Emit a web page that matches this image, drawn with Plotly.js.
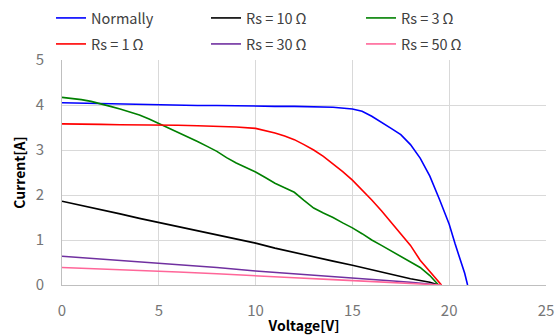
<!DOCTYPE html>
<html><head><meta charset="utf-8">
<script src="https://cdn.plot.ly/plotly-3.0.1.min.js"></script>
<style>html,body{margin:0;padding:0;background:#fff}</style>
</head><body><div id="chart" style="width:555px;height:335px"></div>
<script>
const seriesNames = ["Normally", "Rs = 10\u2009\u03a9", "Rs = 3\u2009\u03a9", "Rs = 1\u2009\u03a9", "Rs = 30\u2009\u03a9", "Rs = 50\u2009\u03a9"];
const seriesColors = ["#0000ff", "#000000", "#008000", "#ff0000", "#7030a0", "#ff6699"];

const normalV = [0,1,2,3,4,5,6,7,8,9,10,11,12,13,14,15,15.5,16,16.5,17,17.5,18,18.5,19,19.5,20,20.3,20.6,20.8,20.95];
const normalI = [4.05,4.04,4.03,4.02,4.01,4.00,4.00,3.99,3.99,3.98,3.98,3.97,3.97,3.96,3.95,3.91,3.86,3.75,3.62,3.48,3.34,3.12,2.82,2.42,1.90,1.35,0.92,0.52,0.26,0];

const rs10V = [0,1,2,3,4,5,6,7,8,9,10,11,12,13,14,15,16,17,18,19,19.45];
const rs10I = [1.86,1.77,1.67,1.58,1.48,1.39,1.30,1.21,1.12,1.03,0.93,0.82,0.72,0.62,0.53,0.44,0.34,0.24,0.14,0.06,0];

const rs3V = [0,0.5,1,1.5,2,2.5,3,3.5,4,4.5,5,5.5,6,6.5,7,7.5,8,8.5,9,9.5,10,10.5,11,11.5,12,12.5,13,13.5,14,14.5,15,15.5,16,16.5,17,17.5,18,18.5,19,19.45];
const rs3I = [4.17,4.15,4.12,4.08,4.03,3.97,3.91,3.85,3.78,3.69,3.59,3.49,3.40,3.30,3.19,3.08,2.97,2.83,2.71,2.61,2.51,2.39,2.26,2.16,2.06,1.88,1.71,1.60,1.50,1.38,1.27,1.14,1.00,0.88,0.76,0.63,0.51,0.39,0.21,0];

const rs1V = [0,1,2,3,4,5,6,7,8,9,10,10.5,11,11.5,12,12.5,13,13.5,14,14.5,15,15.5,16,16.5,17,17.5,18,18.5,19,19.3,19.6];
const rs1I = [3.58,3.58,3.57,3.56,3.56,3.55,3.55,3.54,3.53,3.51,3.48,3.43,3.38,3.31,3.23,3.12,3.00,2.86,2.70,2.52,2.33,2.12,1.89,1.65,1.40,1.13,0.88,0.55,0.30,0.14,0];

const rs30V = [0,2,4,5,6,8,10,12,14,16,18,19.5];
const rs30I = [0.64,0.58,0.52,0.49,0.46,0.39,0.31,0.25,0.19,0.13,0.06,0];

const rs50V = [0,2,4,6,8,10,12,14,16,18,19.6];
const rs50I = [0.39,0.36,0.33,0.29,0.25,0.20,0.16,0.12,0.08,0.04,0];

const xTicks = [0,5,10,15,20,25];
const yTicks = [0,1,2,3,4,5];

const allV = [normalV, rs10V, rs3V, rs1V, rs30V, rs50V];
const allI = [normalI, rs10I, rs3I, rs1I, rs30I, rs50I];

const font = "'Noto Sans CJK JP', 'Noto Sans', sans-serif";
const legendKeys = ["legend", "legend2", "legend3", "legend4", "legend5", "legend6"];
const traces = allV.map((v, k) => ({
  x: v, y: allI[k], type: "scatter", mode: "lines", name: seriesNames[k],
  line: {color: seriesColors[k], width: 1.6},
  legend: legendKeys[k]
}));

const colPx = [51, 206, 361];
const rowPx = [18, 44];
const layout = {
  width: 555, height: 335,
  margin: {l: 62, r: 8.5, t: 57, b: 50},
  paper_bgcolor: "#fff", plot_bgcolor: "#fff",
  showlegend: true,
  xaxis: {
    range: [0, 25], tickvals: xTicks, ticktext: xTicks.map(String), automargin: false,
    showgrid: true, gridcolor: "#d9d9d9", gridwidth: 1,
    zeroline: false, showline: true, linecolor: "#bfbfbf", linewidth: 1,
    ticks: "", ticklabelstandoff: 12,
    tickfont: {family: font, size: 15, color: "#767676"},
    title: {text: "<b>Voltage[V]</b>", font: {family: font, size: 14, color: "#000"}, standoff: 4}
  },
  yaxis: {
    range: [0, 5], tickvals: yTicks, ticktext: yTicks.map(String), automargin: false,
    showgrid: true, gridcolor: "#d9d9d9", gridwidth: 1,
    zeroline: false, showline: true, linecolor: "#bfbfbf", linewidth: 1,
    ticks: "", ticklabelstandoff: 14,
    tickfont: {family: font, size: 15, color: "#767676"},
    title: {text: "<b>Current[A]</b>", font: {family: font, size: 14, color: "#000"}, standoff: 6}
  }
};
legendKeys.forEach((key, k) => {
  layout[key] = {
    xref: "container", yref: "container",
    x: colPx[k % 3] / 555, y: 1 - rowPx[Math.floor(k / 3)] / 335,
    xanchor: "left", yanchor: "middle", orientation: "h", itemwidth: 30,
    font: {family: font, size: 14.5, color: "#404040"},
    bgcolor: "rgba(0,0,0,0)", borderwidth: 0
  };
});

Plotly.newPlot("chart", traces, layout, {displayModeBar: false, staticPlot: true});
</script>
</body></html>
